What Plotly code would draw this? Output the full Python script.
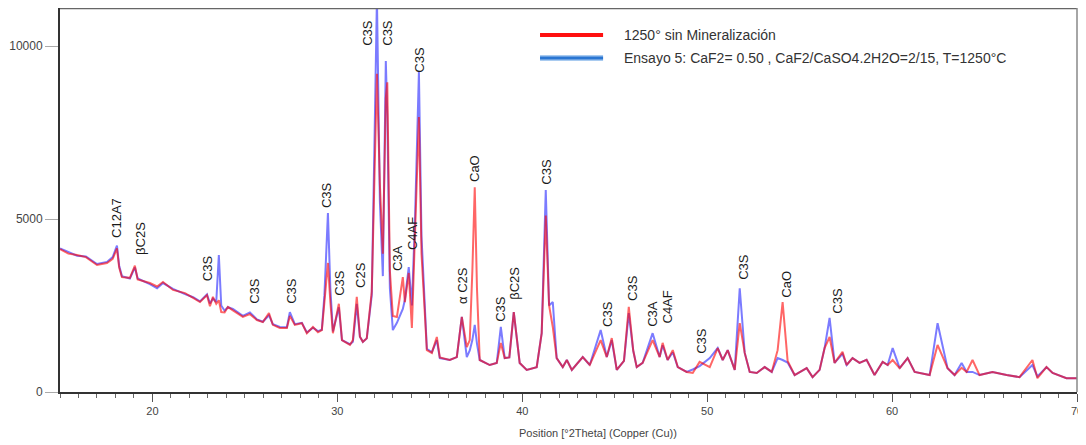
import plotly.graph_objects as go

# 2theta positions (degrees) and intensities (counts)
tth = [15.00, 15.45, 15.92, 16.40, 17.00, 17.54, 17.85, 18.08, 18.20, 18.35, 18.78, 19.05, 19.20,
       19.86, 20.25, 20.57, 21.11, 21.76, 22.20, 22.57, 22.95, 23.11, 23.27, 23.45, 23.59, 23.72,
       23.90, 24.08, 24.35, 24.89, 25.27, 25.65, 25.97, 26.30, 26.51, 26.89, 27.27, 27.43, 27.70,
       28.08, 28.35, 28.68, 28.95, 29.16, 29.30, 29.49, 29.62, 29.76, 30.08, 30.25, 30.68, 30.84,
       31.05, 31.22, 31.38, 31.59, 31.86, 32.00, 32.14, 32.30, 32.46, 32.62, 32.70, 32.84, 33.00,
       33.22, 33.54, 33.65, 33.86, 34.03, 34.20, 34.41, 34.55, 34.84, 35.11, 35.38, 35.54, 36.08,
       36.46, 36.73, 37.00, 37.16, 37.30, 37.43, 37.55, 37.70, 38.24, 38.62, 38.84, 39.05, 39.30,
       39.54, 39.86, 40.24, 40.78, 41.05, 41.27, 41.45, 41.65, 41.86, 42.19, 42.41, 42.68, 43.27,
       43.65, 44.24, 44.57, 44.84, 45.11, 45.50, 45.76, 46.00, 46.19, 46.51, 47.05, 47.43, 47.59,
       47.86, 48.14, 48.41, 48.89, 49.22, 49.59, 50.14, 50.57, 50.84, 51.11, 51.49, 51.76, 52.03,
       52.30, 52.68, 53.11, 53.49, 53.81, 54.08, 54.35, 54.73, 55.38, 55.70, 56.08, 56.35, 56.62,
       56.89, 57.32, 57.54, 57.86, 58.24, 58.62, 59.05, 59.49, 59.76, 60.03, 60.41, 60.84, 61.22,
       62.03, 62.46, 63.00, 63.38, 63.76, 64.03, 64.35, 64.73, 65.43, 66.19, 66.89, 67.59, 67.86,
       68.35, 68.68, 69.43, 70.00]

red_counts = [4130, 4000, 3960, 3900, 3670, 3730, 3850, 4150, 3600, 3320, 3300, 3650, 3250,
              3150, 3050, 3180, 2950, 2860, 2720, 2600, 2800, 2480, 2750, 2550, 2650, 2310,
              2300, 2460, 2360, 2170, 2250, 2080, 2020, 2280, 1940, 1850, 1850, 2200, 1940,
              1990, 1700, 1880, 1730, 1790, 2600, 3730, 2600, 1700, 2550, 1500, 1360, 1500,
              2750, 1600, 1450, 1550, 2900, 6500, 9200, 6000, 4000, 8500, 8950, 3500, 2200,
              2170, 3320, 2600, 3440, 1850, 4500, 7950, 4000, 1210, 1130, 1590, 1000, 925,
              1010, 2170, 1300, 1500, 3500, 5920, 3000, 925, 780, 840, 1420, 980, 1000,
              2310, 840, 640, 720, 1700, 5100, 2500, 1880, 980, 720, 925, 640, 1010,
              780, 1500, 1010, 1560, 640, 900, 2460, 1200, 720, 840, 1500, 1010, 1420,
              925, 1210, 720, 580, 550, 870, 720, 1270, 925, 1210, 640, 1990, 1130,
              580, 550, 720, 580, 1210, 2600, 900, 490, 690, 430, 640, 1270, 1590,
              840, 1160, 780, 980, 840, 930, 490, 870, 780, 925, 690, 980, 580,
              490, 1360, 690, 490, 700, 580, 925, 490, 580, 490, 430, 925, 400,
              720, 550, 400, 400]

blue_counts = [4150, 4050, 3940, 3920, 3700, 3760, 3900, 4230, 3650, 3350, 3280, 3600, 3280,
               3120, 3000, 3150, 2980, 2830, 2740, 2620, 2820, 2560, 2700, 2600, 3960, 2500,
               2350, 2450, 2400, 2200, 2300, 2100, 2030, 2220, 1960, 1880, 1870, 2310, 1960,
               2000, 1720, 1860, 1760, 1800, 2800, 5170, 3000, 1750, 2450, 1500, 1380, 1450,
               2550, 1600, 1450, 1550, 2800, 7000, 11400, 5500, 3350, 9570, 8000, 3000, 1790,
               2000, 2400, 2660, 3610, 2500, 5000, 9250, 4500, 1250, 1150, 1500, 980, 925,
               1010, 2170, 1010, 1200, 1500, 1940, 1400, 925, 780, 840, 1880, 980, 1000,
               2310, 840, 640, 720, 1700, 5840, 2500, 2600, 980, 720, 925, 640, 1010,
               780, 1790, 1010, 1500, 640, 900, 2280, 1200, 720, 840, 1700, 1010, 1350,
               925, 1150, 720, 580, 650, 750, 980, 1270, 925, 1210, 640, 3000, 1130,
               580, 550, 720, 580, 980, 925, 850, 490, 690, 430, 640, 1270, 2140,
               840, 1100, 780, 980, 840, 930, 490, 870, 780, 1270, 690, 980, 580,
               490, 1990, 690, 490, 840, 580, 580, 490, 580, 490, 430, 780, 450,
               720, 550, 400, 400]

# phase labels: text, 2theta, intensity at label centre
label_text = ["C12A7", "βC2S", "C3S", "C3S", "C3S", "C3S", "C3S", "C2S", "C3S", "C3S", "C3S",
              "C3A", "C4AF", "α C2S", "CaO", "C3S", "βC2S", "C3S", "C3S", "C3S", "C3A", "C4AF",
              "C3S", "C3S", "CaO", "C3S"]
label_tth = [18.08, 19.32, 22.95, 25.54, 27.54, 29.38, 30.08, 31.22, 31.65, 32.73, 34.46,
             33.22, 34.03, 36.73, 37.38, 38.84, 39.54, 41.32, 44.57, 45.92, 47.00, 47.86,
             49.70, 51.92, 54.24, 57.00]
label_int = [5030, 4450, 3580, 2920, 2920, 5690, 3150, 3380, 10380, 10380, 9600,
             3870, 4590, 3090, 6470, 2400, 3150, 6360, 2250, 3000, 2250, 2460,
             1470, 3610, 3120, 2630]

legend_names = ["1250° sin Mineralización",
                "Ensayo 5: CaF2= 0.50 , CaF2/CaSO4.2H2O=2/15, T=1250°C"]

fig = go.Figure()
fig.add_trace(go.Scatter(x=tth, y=blue_counts, mode="lines", name=legend_names[1],
                         line=dict(color="rgba(35,35,255,0.6)", width=2), showlegend=False))
fig.add_trace(go.Scatter(x=tth, y=red_counts, mode="lines", name=legend_names[0],
                         line=dict(color="rgba(255,0,0,0.6)", width=2), showlegend=False))

annotations = []
for t, xv, yv in zip(label_text, label_tth, label_int):
    annotations.append(dict(x=xv, y=yv, xref="x", yref="y", text=t, textangle=-90,
                            showarrow=False, font=dict(family="Liberation Sans", size=13, color="#1a1a1a")))

# manual legend
shapes = [
    dict(type="line", xref="paper", yref="paper", x0=0.472, x1=0.534, y0=0.930, y1=0.930,
         line=dict(color="#ff1010", width=4)),
    dict(type="line", xref="paper", yref="paper", x0=0.472, x1=0.534, y0=0.870, y1=0.870,
         line=dict(color="#a9cbf0", width=6)),
    dict(type="line", xref="paper", yref="paper", x0=0.472, x1=0.534, y0=0.870, y1=0.870,
         line=dict(color="#2a76d2", width=3)),
    # top and right frame
    dict(type="line", xref="paper", yref="paper", x0=0, x1=1, y0=1, y1=1,
         line=dict(color="#666", width=2.5)),
    dict(type="line", xref="paper", yref="paper", x0=1, x1=1, y0=0, y1=1,
         line=dict(color="#888", width=1.5)),
]
annotations.append(dict(x=0.553, y=0.930, xref="paper", yref="paper", text=legend_names[0],
                        xanchor="left", yanchor="middle", showarrow=False,
                        font=dict(family="Liberation Sans", size=14, color="#333")))
annotations.append(dict(x=0.553, y=0.870, xref="paper", yref="paper", text=legend_names[1],
                        xanchor="left", yanchor="middle", showarrow=False,
                        font=dict(family="Liberation Sans", size=14, color="#333")))
annotations.append(dict(x=0.529, y=-0.106, xref="paper", yref="paper",
                        text="Position [°2Theta] (Copper (Cu))", xanchor="center", yanchor="middle",
                        showarrow=False, font=dict(family="Liberation Sans", size=11, color="#444")))

fig.update_layout(
    width=1078, height=437, autosize=False,
    margin=dict(l=52, r=9, t=0, b=53),
    paper_bgcolor="white", plot_bgcolor="white",
    shapes=shapes, annotations=annotations,
    xaxis=dict(range=[15, 70], tickvals=[20, 30, 40, 50, 60, 70], ticks="outside", ticklen=8,
               tickcolor="#555", tickwidth=1.2, showline=True, linecolor="#333", linewidth=2,
               showgrid=False, zeroline=False,
               tickfont=dict(family="Liberation Sans", size=11, color="#444"),
               minor=dict(dtick=1, ticks="outside", ticklen=4, tickcolor="#666", tickwidth=1)),
    yaxis=dict(range=[0, 11100], tickvals=[0, 5000, 10000], tickformat="d", ticks="outside",
               ticklen=13, tickcolor="#aaa", showline=True, linecolor="#333", linewidth=2,
               showgrid=False, zeroline=False,
               tickfont=dict(family="Liberation Sans", size=12, color="#444")),
)

fig.write_html("out.html")
